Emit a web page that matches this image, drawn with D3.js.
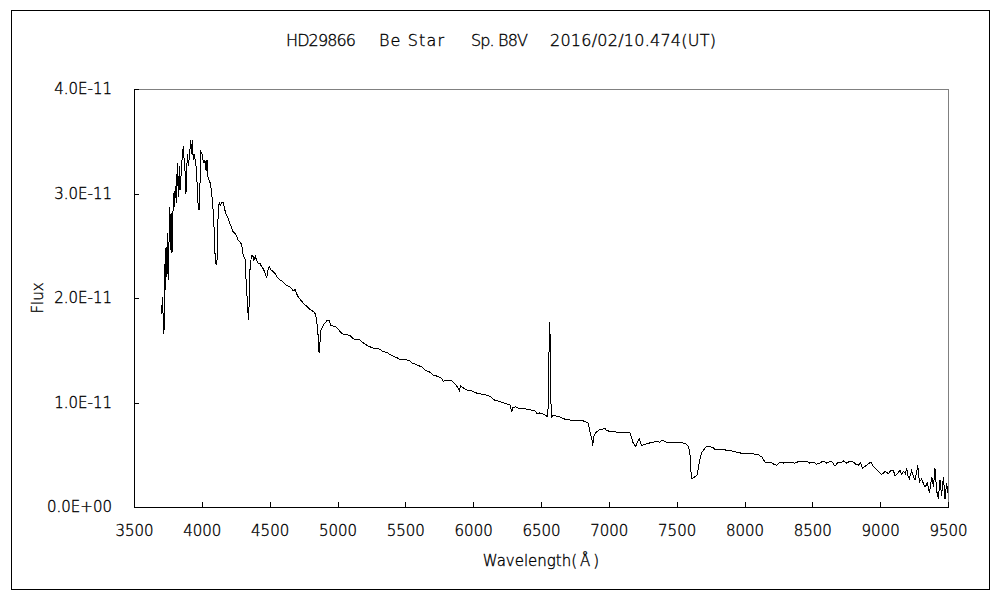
<!DOCTYPE html>
<meta charset="utf-8">
<style>
body { margin: 0; background: #fff; }
text { font-family: "DejaVu Sans", sans-serif; font-weight: 200; fill: #000; stroke: #000; stroke-width: 0.35px; }
.spec { fill: none; stroke: #000; stroke-width: 1px; shape-rendering: crispEdges; }
.frame { fill: none; stroke: #000; shape-rendering: crispEdges; }
.tick line { stroke: #000; shape-rendering: crispEdges; }
</style>
<svg width="1000" height="600"></svg>
<script src="https://cdn.jsdelivr.net/npm/d3@7"></script>
<script>
// title pieces
var titleParts = ["HD29866", "Be Star", "Sp. B8V", "2016/02/10.474(UT)"];

// wavelength in Angstrom
var wavelength = [3704,3709,3716,3721,3726,3731,3736,3743,3748,3756,3760,3768,3773,3780,3785,3793,3797,3804,3812,3819,
  3827,3834,3839,3846,3854,3863,3871,3878,3883,3893,3900,3908,3918,3922,3930,3937,3944,3955,3962,3969,
  3974,3981,3986,3993,4001,4009,4016,4023,4031,4038,4045,4053,4062,4070,4077,4085,4091,4099,4104,4111,
  4117,4121,4128,4136,4146,4158,4165,4176,4188,4198,4208,4220,4232,4244,4257,4269,4281,4294,4306,4318,
  4326,4335,4343,4348,4353,4357,4365,4375,4384,4394,4404,4416,4429,4441,4453,4466,4478,4488,4497,4510,
  4527,4542,4556,4576,4593,4606,4626,4645,4662,4674,4687,4699,4711,4729,4748,4773,4797,4822,4836,4846,
  4856,4862,4866,4870,4876,4895,4920,4937,4950,4969,4994,5018,5043,5068,5092,5116,5141,5166,5178,5203,
  5227,5264,5289,5313,5333,5363,5399,5436,5461,5498,5534,5547,5584,5621,5645,5682,5706,5743,5768,5780,
  5792,5842,5866,5883,5898,5908,5927,5952,5989,6026,6063,6100,6124,6161,6198,6235,6271,6284,6292,6313,
  6345,6382,6419,6456,6473,6490,6517,6542,6550,6556,6560,6564,6568,6572,6577,6590,6640,6677,6726,6787,
  6824,6849,6861,6876,6881,6888,6898,6910,6934,6972,6984,7033,7107,7156,7168,7180,7198,7210,7225,7242,
  7267,7291,7328,7348,7377,7390,7426,7500,7561,7586,7598,7605,7613,7635,7652,7667,7684,7701,7721,7770,
  7782,7832,7893,7954,8004,8053,8102,8127,8151,8188,8215,8237,8262,8290,8335,8370,8409,8430,8458,8480,
  8507,8530,8556,8580,8606,8642,8667,8690,8704,8730,8753,8780,8802,8820,8839,8855,8871,8900,8930,8949,
  8970,8986,9011,9035,9060,9080,9097,9110,9122,9146,9160,9171,9185,9195,9205,9215,9232,9245,9257,9268,
  9277,9289,9306,9320,9331,9348,9363,9380,9393,9404,9417,9429,9441,9453,9466,9478,9490,9500];

// flux in units of 1e-11
var flux = [1.85,2.01,1.79,1.66,2.33,2.08,2.49,2.20,2.62,2.17,2.87,2.46,2.81,2.43,2.75,3.00,2.87,3.07,2.91,3.29,
  2.97,3.26,3.03,3.16,3.32,3.45,3.29,3.19,3.00,3.38,3.26,3.35,3.51,3.38,3.51,3.32,3.38,3.29,3.19,2.97,
  2.86,2.84,3.07,3.40,3.38,3.32,3.29,3.32,3.22,3.32,3.16,3.13,3.10,3.03,2.94,2.81,2.65,2.36,2.33,2.32,
  2.65,2.84,2.91,2.89,2.91,2.91,2.87,2.81,2.78,2.75,2.71,2.67,2.63,2.62,2.59,2.55,2.54,2.51,2.40,2.38,
  2.17,1.98,1.79,1.92,2.24,2.30,2.40,2.41,2.36,2.40,2.36,2.33,2.33,2.30,2.28,2.24,2.19,2.27,2.30,2.27,
  2.25,2.23,2.20,2.17,2.16,2.14,2.12,2.11,2.09,2.07,2.08,2.04,2.01,1.98,1.95,1.92,1.89,1.87,1.85,1.79,
  1.66,1.50,1.47,1.55,1.69,1.74,1.78,1.79,1.74,1.73,1.72,1.68,1.65,1.65,1.64,1.61,1.60,1.60,1.58,1.56,
  1.54,1.52,1.52,1.51,1.49,1.48,1.45,1.43,1.41,1.41,1.40,1.38,1.36,1.34,1.31,1.29,1.26,1.25,1.23,1.20,
  1.21,1.21,1.18,1.15,1.11,1.16,1.14,1.12,1.11,1.09,1.08,1.07,1.06,1.02,1.01,0.99,0.98,0.91,0.95,0.96,
  0.94,0.94,0.93,0.92,0.89,0.90,0.89,0.87,0.87,1.12,1.58,1.77,1.58,1.05,0.86,0.88,0.86,0.84,0.83,0.83,
  0.82,0.80,0.72,0.64,0.58,0.67,0.70,0.72,0.74,0.75,0.73,0.72,0.71,0.71,0.66,0.61,0.58,0.62,0.65,0.59,
  0.60,0.61,0.62,0.63,0.62,0.64,0.62,0.62,0.61,0.58,0.51,0.34,0.27,0.29,0.31,0.43,0.52,0.55,0.58,0.57,
  0.55,0.55,0.54,0.52,0.51,0.51,0.50,0.48,0.43,0.43,0.41,0.40,0.43,0.42,0.43,0.42,0.44,0.43,0.44,0.42,
  0.43,0.41,0.42,0.44,0.42,0.44,0.39,0.43,0.42,0.44,0.42,0.44,0.43,0.41,0.40,0.42,0.37,0.40,0.43,0.39,
  0.36,0.34,0.31,0.34,0.32,0.35,0.35,0.30,0.31,0.35,0.31,0.34,0.32,0.37,0.30,0.27,0.35,0.29,0.26,0.33,
  0.40,0.24,0.27,0.22,0.19,0.23,0.13,0.29,0.19,0.37,0.15,0.08,0.26,0.11,0.29,0.08,0.23,0.13];
var fluxUnit = 1e-11;

var xTicks = [3500,4000,4500,5000,5500,6000,6500,7000,7500,8000,8500,9000,9500];
var yTicks = [0, 1e-11, 2e-11, 3e-11, 4e-11];
var yTickLabels = ["0.0E+00", "1.0E-11", "2.0E-11", "3.0E-11", "4.0E-11"];

var svg = d3.select("svg"),
    margin = {top: 89, left: 134},
    width = 814,
    height = 418;

// outer frame
svg.append("rect").attr("class", "frame")
    .attr("x", 11.5).attr("y", 10.5).attr("width", 978).attr("height", 579);

svg.selectAll(".title")
    .data(titleParts)
  .enter().append("text")
    .attr("class", "title")
    .attr("x", function(d, i) { return [286, 379, 471, 550][i]; })
    .attr("y", 46)
    .attr("textLength", function(d, i) { return [70, 65, 57, 166][i]; })
    .style("font-size", "16px")
    .text(function(d) { return d; });

var g = svg.append("g")
    .attr("transform", "translate(" + margin.left + "," + margin.top + ")");

var x = d3.scaleLinear().domain([3500, 9500]).range([0, width]);
var y = d3.scaleLinear().domain([0, 4e-11]).range([height, 0]);

// gray top / right edges of the plot box
g.append("path")
    .attr("d", "M0.5,0.5H" + (width + 0.5) + "V" + (height + 0.5))
    .attr("fill", "none").attr("stroke", "#808080")
    .style("shape-rendering", "crispEdges");

var xAxis = g.append("g")
    .attr("transform", "translate(0," + height + ")")
    .call(d3.axisBottom(x).tickValues(xTicks).tickSize(-5).tickPadding(18)
      .tickFormat(d3.format("d")));
xAxis.select(".domain").attr("stroke", "#000").style("shape-rendering", "crispEdges");
xAxis.selectAll("text").style("font-size", "15px").attr("dy", "0.71em");

var yAxis = g.append("g")
    .call(d3.axisLeft(y).tickValues(yTicks).tickSize(-5).tickPadding(22)
      .tickFormat(function(d, i) { return yTickLabels[i]; }));
yAxis.select(".domain").attr("stroke", "#000").style("shape-rendering", "crispEdges");
yAxis.selectAll("text").style("font-size", "15px");

var data = wavelength.map(function(w, i) { return {w: w, f: flux[i] * fluxUnit}; });

var line = d3.line()
    .x(function(d) { return x(d.w); })
    .y(function(d) { return y(d.f); });

g.append("path")
    .datum(data)
    .attr("class", "spec")
    .attr("d", line);

// axis titles
var xt = svg.append("text")
    .attr("x", 541).attr("y", 566)
    .attr("text-anchor", "middle")
    .style("font-size", "15px");
xt.append("tspan").text("Wavelength(");
xt.append("tspan").attr("dx", 3).text("Å");
xt.append("tspan").attr("dx", 3).text(")");

svg.append("text")
    .attr("transform", "translate(43,298) rotate(-90)")
    .attr("text-anchor", "middle")
    .style("font-size", "15px")
    .text("Flux");
</script>
